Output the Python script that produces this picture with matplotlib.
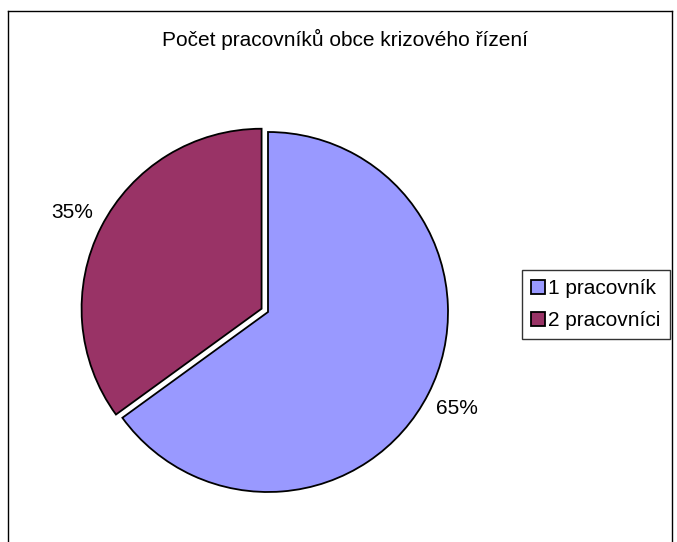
import matplotlib
matplotlib.use("Agg")
import matplotlib.pyplot as plt
from matplotlib.lines import Line2D

plt.rcParams['font.family'] = ['Liberation Sans', 'DejaVu Sans']

title = "Počet pracovníků obce krizového řízení"
categories = ["1 pracovník", "2 pracovníci"]
values = [65, 35]
colors = ["#9999FF", "#993366"]
explode = [0.0, 0.04]

W, H = 677, 542
fig = plt.figure(figsize=(W / 100, H / 100), dpi=100)

cx, cy, r = 268, 312, 180
ax = fig.add_axes([(cx - r) / W, (H - cy - r) / H, 2 * r / W, 2 * r / H])
wedges, texts, autotexts = ax.pie(
    values, colors=colors, explode=explode, startangle=90, counterclock=False,
    autopct='%1.0f%%', pctdistance=1.18,
    wedgeprops=dict(edgecolor='black', linewidth=1.3),
    textprops=dict(fontsize=15, color='black'))
ax.set_xlim(-1, 1)
ax.set_ylim(-1, 1)
ax.set_aspect('auto')

fig.text(345 / W, 1 - 39 / H, title, ha='center', va='center', fontsize=15)

leg = fig.legend(wedges, categories, loc='upper left',
                 bbox_to_anchor=(522 / W, 1 - 270 / H),
                 fontsize=15, frameon=True, fancybox=False, shadow=False,
                 handlelength=0.65, handleheight=0.65, handletextpad=0.15,
                 labelspacing=0.6, borderpad=0.45, borderaxespad=0)
leg.get_frame().set_edgecolor('black')
leg.get_frame().set_linewidth(1.0)
for h in leg.legend_handles:
    h.set_edgecolor('black')
    h.set_linewidth(1.3)

# chart area border (left, top, right)
lw = 1.0
fig.add_artist(Line2D([7.5 / W, 7.5 / W], [0, 1 - 10.5 / H], color='black', lw=lw, transform=fig.transFigure))
fig.add_artist(Line2D([7.5 / W, 671.5 / W], [1 - 10.5 / H, 1 - 10.5 / H], color='black', lw=lw, transform=fig.transFigure))
fig.add_artist(Line2D([671.5 / W, 671.5 / W], [0, 1 - 10.5 / H], color='black', lw=lw, transform=fig.transFigure))

fig.savefig("out.png", dpi=100)
